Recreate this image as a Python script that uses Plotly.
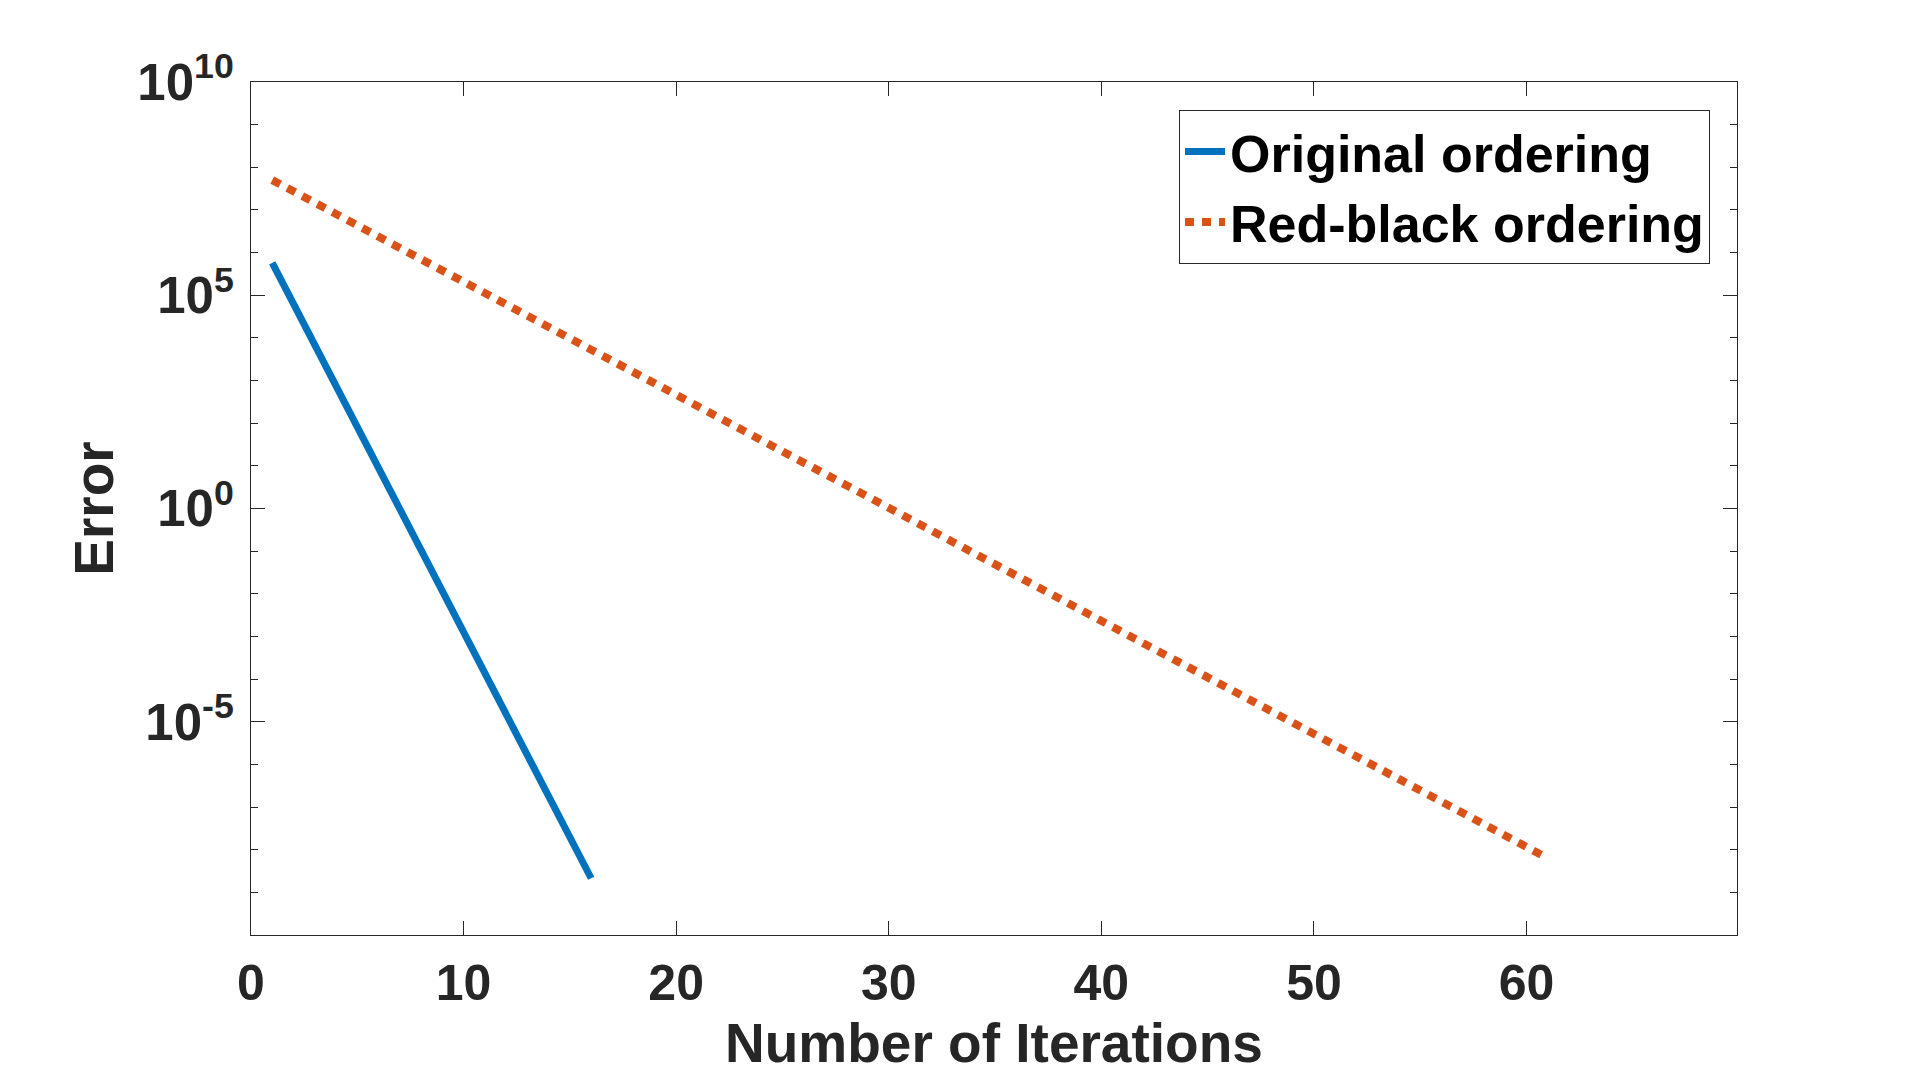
import plotly.graph_objects as go

# iterations and error values
iters_original = list(range(1, 17))
err_original = [5.75e5, 6.31e4, 6.92e3, 741, 81.3, 8.91, 0.977, 0.107,
                1.15e-2, 1.26e-3, 1.38e-4, 1.51e-5, 1.66e-6, 1.78e-7,
                1.95e-8, 2.14e-9]

iters_redblack = list(range(1, 62))
err_redblack = [5.01e7, 2.72e7, 1.48e7, 8.04e6, 4.37e6, 2.37e6, 1.29e6, 7.00e5,
                3.80e5, 2.07e5, 1.12e5, 6.10e4, 3.31e4, 1.80e4, 9.77e3, 5.31e3,
                2.88e3, 1.57e3, 851, 462, 251, 136, 74.1, 40.3, 21.9, 11.9,
                6.46, 3.51, 1.91, 1.04, 0.562, 0.305, 0.166, 9.02e-2, 4.90e-2,
                2.66e-2, 1.45e-2, 7.85e-3, 4.27e-3, 2.32e-3, 1.26e-3, 6.84e-4,
                3.72e-4, 2.02e-4, 1.10e-4, 5.96e-5, 3.24e-5, 1.76e-5, 9.55e-6,
                5.19e-6, 2.82e-6, 1.53e-6, 8.32e-7, 4.52e-7, 2.45e-7, 1.33e-7,
                7.24e-8, 3.94e-8, 2.14e-8, 1.16e-8, 6.31e-9]

x_ticks = [0, 10, 20, 30, 40, 50, 60]
y_ticks = [1e-5, 1, 1e5, 1e10]
y_ticktext = ['10<sup>-5</sup>', '10<sup>0</sup>', '10<sup>5</sup>', '10<sup>10</sup>']
y_minor = [10.0 ** p for p in range(-10, 11)]

axisColor = '#262626'
fontName = 'Liberation Sans'
titleFont = dict(family=fontName, size=55, color=axisColor, weight='bold')

fig = go.Figure()
fig.add_trace(go.Scatter(
    x=iters_original, y=err_original, mode='lines',
    name='Original ordering',
    line=dict(color='#0072BD', width=7),
))
fig.add_trace(go.Scatter(
    x=iters_redblack, y=err_redblack, mode='lines',
    name='Red-black ordering',
    line=dict(color='#D95319', width=8, dash='9px,8px'),
))

fig.update_xaxes(
    range=[0, 69.9],
    tickmode='array', tickvals=x_ticks,
    ticks='inside', ticklen=14, tickwidth=1, tickcolor=axisColor,
    showline=True, linecolor=axisColor, linewidth=1, mirror='allticks',
    showgrid=False, zeroline=False, automargin=False,
    ticklabelstandoff=4,
    tickfont=dict(family=fontName, size=50, color=axisColor, weight='bold'),
)
fig.update_yaxes(
    type='log', range=[-10, 10],
    tickmode='array', tickvals=y_ticks, ticktext=y_ticktext,
    ticks='inside', ticklen=14, tickwidth=1, tickcolor=axisColor,
    minor=dict(tickmode='array', tickvals=y_minor, ticks='inside', ticklen=7,
               tickwidth=1, tickcolor=axisColor, showgrid=False),
    showline=True, linecolor=axisColor, linewidth=1, mirror='allticks',
    showgrid=False, zeroline=False, automargin=False,
    ticklabelstandoff=6,
    tickfont=dict(family=fontName, size=51, color=axisColor, weight='bold'),
    title=dict(text='Error', standoff=6, font=titleFont),
)

# x title as an annotation, kept just inside the bottom edge of the page
fig.add_annotation(
    text='Number of Iterations', font=titleFont,
    xref='paper', yref='paper', x=0.5, y=-0.127,
    xanchor='center', yanchor='middle', showarrow=False,
)

# the page body has an 8px margin, so the figure is 16px smaller than the window
fig.update_layout(
    width=1904,
    height=1067,
    plot_bgcolor='white',
    paper_bgcolor='white',
    margin=dict(l=243, r=175, t=74, b=140),
    legend=dict(
        x=0.6245, y=0.967, xanchor='left', yanchor='top',
        bgcolor='white', bordercolor=axisColor, borderwidth=1,
        itemwidth=40,
        font=dict(family=fontName, size=52, color='black', weight='bold'),
    ),
)

fig.write_html("out.html")
